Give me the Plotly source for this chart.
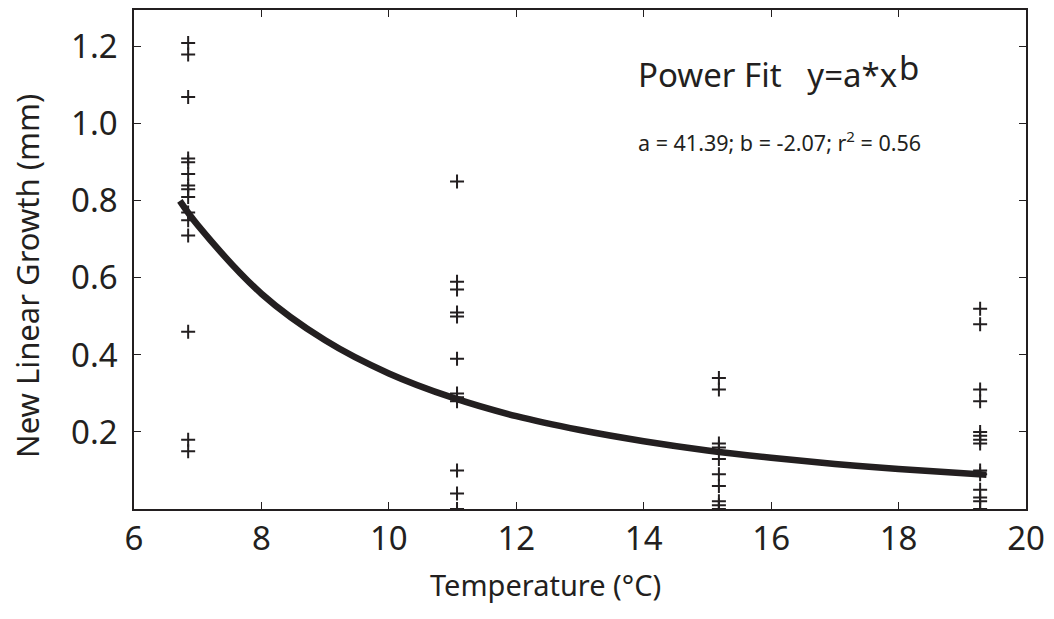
import plotly.graph_objects as go

# Observed data (temperature columns, growth values)
temp_c1 = 6.85
temp_c2 = 11.07
temp_c3 = 15.18
temp_c4 = 19.28

growth_c1 = [1.21, 1.18, 1.07, 0.91, 0.90, 0.87, 0.84, 0.83, 0.81, 0.77, 0.75, 0.71, 0.46, 0.18, 0.15]
growth_c2 = [0.85, 0.59, 0.57, 0.51, 0.50, 0.39, 0.30, 0.29, 0.28, 0.10, 0.04, 0.00]
growth_c3 = [0.34, 0.31, 0.17, 0.16, 0.13, 0.09, 0.06, 0.02, 0.01, 0.00]
growth_c4 = [0.52, 0.48, 0.31, 0.28, 0.20, 0.19, 0.18, 0.17, 0.10, 0.09, 0.05, 0.03, 0.02, 0.00]

# Fitted power curve
fit_x = [6.72, 7, 8, 9, 10, 11, 12, 13, 14, 15, 16, 17, 18, 19.38]
fit_y = [0.80, 0.737, 0.559, 0.438, 0.352, 0.289, 0.241, 0.205, 0.176, 0.152, 0.133, 0.117, 0.104, 0.089]

x_ticks = [6, 8, 10, 12, 14, 16, 18, 20]
y_ticks = [0.2, 0.4, 0.6, 0.8, 1.0, 1.2]
y_tick_text = ["0.2", "0.4", "0.6", "0.8", "1.0", "1.2"]

INK = "#231f20"
FONT = "Noto Sans"

xs = ([temp_c1] * len(growth_c1) + [temp_c2] * len(growth_c2)
      + [temp_c3] * len(growth_c3) + [temp_c4] * len(growth_c4))
ys = growth_c1 + growth_c2 + growth_c3 + growth_c4

fig = go.Figure()
fig.add_trace(go.Scatter(
    x=fit_x, y=fit_y, mode="lines", line=dict(color=INK, width=6.5, shape="spline"),
    showlegend=False, hoverinfo="skip"))
fig.add_trace(go.Scatter(
    x=xs, y=ys, mode="markers",
    marker=dict(symbol="cross-thin", size=10, line=dict(color=INK, width=2), color=INK),
    showlegend=False))

axis_common = dict(
    showline=True, linecolor=INK, linewidth=1.5, mirror="ticks",
    ticks="inside", ticklen=7, tickwidth=1, tickcolor=INK,
    showgrid=False, zeroline=False,
    tickfont=dict(family=FONT, size=33, color=INK),
)

fig.update_xaxes(range=[6, 20], tickvals=x_ticks, ticklabelstandoff=0, **axis_common)
fig.update_yaxes(range=[0, 1.2956], tickvals=y_ticks, ticktext=y_tick_text,
                 ticklabelstandoff=8, **axis_common)

fig.update_layout(
    width=1054, height=619,
    margin=dict(l=134, r=28, t=8, b=110),
    plot_bgcolor="white", paper_bgcolor="white",
    font=dict(family=FONT, color=INK),
    annotations=[
        dict(text="Temperature (°C)", x=0.4608, y=-0.152, xref="paper", yref="paper",
             showarrow=False, xanchor="center", yanchor="middle",
             font=dict(family=FONT, size=29, color=INK)),
        dict(text="New Linear Growth (mm)", x=-0.12, y=0.467, xref="paper", yref="paper",
             showarrow=False, xanchor="center", yanchor="middle", textangle=-90,
             font=dict(family=FONT, size=31, color=INK)),
        dict(text="Power Fit   y=a*x", x=0.563, y=0.871, xref="paper", yref="paper",
             showarrow=False, xanchor="left", yanchor="middle",
             font=dict(family=FONT, size=33, color=INK)),
        dict(text="b", x=0.855, y=0.884, xref="paper", yref="paper",
             showarrow=False, xanchor="left", yanchor="middle",
             font=dict(family=FONT, size=33, color=INK)),
        dict(text="a = 41.39; b = -2.07; r<sup>2</sup> = 0.56", x=0.563, y=0.736,
             xref="paper", yref="paper", showarrow=False, xanchor="left", yanchor="middle",
             font=dict(family=FONT, size=21.5, color=INK)),
    ],
)

fig.write_html("out.html")
